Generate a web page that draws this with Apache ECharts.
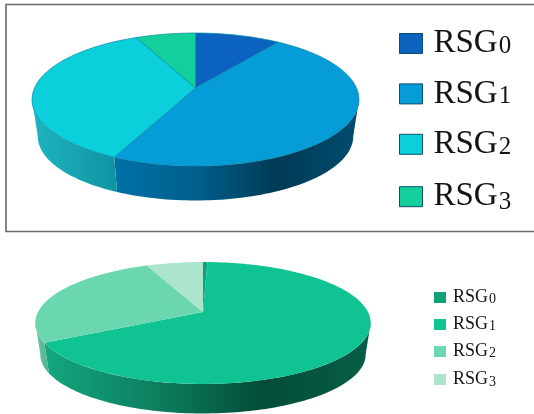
<!DOCTYPE html>
<html>
<head>
<meta charset="utf-8">
<style>html,body{margin:0;padding:0;background:#fff}#main{width:534px;height:414px}</style>
<script src="https://cdn.jsdelivr.net/npm/echarts@6/dist/echarts.min.js"></script>
</head>
<body>
<div id="main"></div>
<script>
// Group shares, in percent, for the two cakes
const categories = ['RSG0', 'RSG1', 'RSG2', 'RSG3'];
const upperValues = [10, 47, 36, 7];
const lowerValues = [0.5, 66.6, 26.4, 6.5];

const upperColors = ['#0b63bf', '#059cd8', '#0ccfdc', '#12cf9b'];
const lowerColors = ['#0ea27b', '#10c392', '#6bd7ae', '#ade5cc'];

// Colour ramps of the outer wall, left to right
const upperWalls = [
  ['#0a4f98', '#0a4f98'],
  ['#0071a8', '#005f8c', '#003a56', '#004c6e'],
  ['#20b4bf', '#0f93a3'],
  ['#0ea27b', '#0ea27b']
];
const lowerWalls = [
  ['#0b8060', '#0b8060'],
  ['#14a77e', '#0d8060', '#034c38', '#075e46'],
  ['#69c8a4', '#4fb08c'],
  ['#8fcdb3', '#8fcdb3']
];

// Perspective projection of the unit disc onto the page
function makeCake(cx, ay, A, B, p, wallDrop, wallScale) {
  const bottomY = ay + B / (1 - p);
  return {
    apex: [cx, ay],
    rim(deg, lower) {
      const t = deg * Math.PI / 180;
      const X = Math.sin(t), Y = -Math.cos(t), w = 1 - p * Y;
      if (!lower) return [cx + A * X / w, ay + B * Y / w];
      const s = wallScale;
      const ay2 = bottomY + wallDrop - s * B / (1 - p);
      return [cx + s * A * X / w, ay2 + s * B * Y / w];
    }
  };
}

const upperCake = makeCake(195.5, 88, 161, 64.5, 0.173, 34.5, 0.965);
const lowerCake = makeCake(203, 312, 165, 59, 0.18, 29.5, 0.97);

function sliceRenderer(cake, values, colors, walls, edge) {
  const total = values.reduce((a, b) => a + b, 0);
  return function (params, api) {
    const i = params.seriesIndex % 4;
    const before = values.slice(0, i).reduce((a, b) => a + b, 0);
    const from = before / total * 360;
    const to = from + api.value(0) / total * 360;

    const steps = Math.max(2, Math.ceil((to - from) / 1.5));
    const face = [cake.apex];
    for (let k = 0; k <= steps; k++) face.push(cake.rim(from + (to - from) * k / steps));

    const children = [];
    // The wall shows only on the near side of the cake
    const wa = Math.max(from, 100), wb = Math.min(to, 260);
    if (wb > wa) {
      const top = [], bot = [];
      const n = Math.ceil((wb - wa) / 1.5);
      for (let k = 0; k <= n; k++) {
        const d = wa + (wb - wa) * k / n;
        top.push(cake.rim(d));
        bot.unshift(cake.rim(d, true));
      }
      const ramp = walls[i];
      children.push({
        type: 'polygon',
        z2: 1,
        shape: { points: top.concat(bot) },
        style: {
          fill: new echarts.graphic.LinearGradient(0, 0, 1, 0,
            ramp.map((c, j) => ({ offset: j / (ramp.length - 1), color: c }))),
          stroke: null
        }
      });
    }
    children.push({
      type: 'polygon',
      z2: 5,
      shape: { points: face },
      style: { fill: colors[i], stroke: edge, lineWidth: edge ? 0.7 : 0 }
    });
    return { type: 'group', children };
  };
}

function sliceSeries(cake, values, colors, walls, edge) {
  return categories.map((name, i) => ({
    type: 'custom',
    name,
    coordinateSystem: 'none',
    silent: true,
    animation: false,
    itemStyle: { color: colors[i] },
    data: [[values[i]]],
    renderItem: sliceRenderer(cake, values, colors, walls, edge)
  }));
}

function cakeLegend(colors, border, left, top, w, h, gap, big, small, pad, drop) {
  return {
    orient: 'vertical',
    left, top,
    padding: 0,
    itemWidth: w,
    itemHeight: h,
    itemGap: gap,
    icon: 'rect',
    selectedMode: false,
    data: categories.map((name, i) => ({
      name,
      itemStyle: { color: colors[i], borderColor: border, borderWidth: border ? 1 : 0 }
    })),
    formatter: name => '{a|' + name.slice(0, 3) + '}{' + (name === 'RSG3' ? 'e' : 'd') + '|' + name.slice(3) + '}',
    textStyle: {
      rich: {
        a: { fontFamily: 'Liberation Serif', fontSize: big, color: '#141414', lineHeight: h, padding: [0, 0, 0, pad] },
        d: { fontFamily: 'Liberation Serif', fontSize: small, color: '#141414', lineHeight: h, padding: [drop, 0, 0, 1] },
        e: { fontFamily: 'Liberation Serif', fontSize: small, color: '#141414', lineHeight: h, padding: [drop * 2, 0, 0, 1] }
      }
    }
  };
}

const chart = echarts.init(document.getElementById('main'), null, { renderer: 'canvas' });
chart.setOption({
  animation: false,
  backgroundColor: '#ffffff',
  graphic: [{
    type: 'rect',
    silent: true,
    shape: { x: 6, y: 4.5, width: 540, height: 227 },
    style: { fill: null, stroke: '#6a6a6a', lineWidth: 1.6 }
  }],
  legend: [
    cakeLegend(upperColors, '#0b4f6b', 399, 27, 23, 20, 17.4, 33, 25, 6, 6),
    cakeLegend(lowerColors, null, 434, 288.5, 12, 11, 9, 18, 14, 2, 3)
  ],
  series: sliceSeries(upperCake, upperValues, upperColors, upperWalls, '#0a8aa8')
    .concat(sliceSeries(lowerCake, lowerValues, lowerColors, lowerWalls, null))
});
</script>
</body>
</html>
